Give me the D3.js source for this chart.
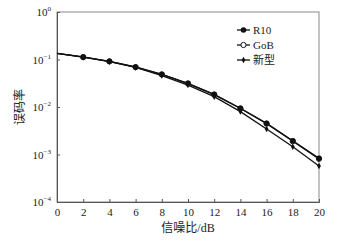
<!DOCTYPE html>
<html lang="zh">
<head>
<meta charset="UTF-8">
<title>误码率 vs 信噪比</title>
<script src="https://d3js.org/d3.v7.min.js"></script>
<style>
  body { margin: 0; background: #fff; }
  svg text { font-family: "Liberation Serif", "Noto Sans CJK SC", serif; fill: #222; }
  .axis path, .axis line { stroke: #555; }
</style>
</head>
<body>
<div id="chart"></div>
<script>
// data
const snr = [0, 2, 4, 6, 8, 10, 12, 14, 16, 18, 20];
const berR10 = [0.135, 0.113, 0.0916, 0.0695, 0.0488, 0.0315, 0.0185, 0.0094, 0.00454, 0.00195, 0.00083];
const berGoB = [0.134, 0.112, 0.0912, 0.0690, 0.0484, 0.0312, 0.0182, 0.0093, 0.00446, 0.00190, 0.00081];
const berNew = [0.134, 0.112, 0.0900, 0.0680, 0.0460, 0.0290, 0.0165, 0.0080, 0.00344, 0.00146, 0.00057];
const xTicks = [0, 2, 4, 6, 8, 10, 12, 14, 16, 18, 20];
const yExps = [0, -1, -2, -3, -4];
const seriesNames = ["R10", "GoB", "新型"];

const W = 348, H = 242;
const margin = {top: 12, right: 29, bottom: 40, left: 57};
const width = W - margin.left - margin.right,
      height = H - margin.top - margin.bottom;

const svg = d3.select("#chart").append("svg")
  .attr("width", W).attr("height", H);
const g = svg.append("g").attr("transform", `translate(${margin.left},${margin.top})`);

const x = d3.scaleLinear().domain([0, 20]).range([0, width]);
const y = d3.scaleLog().domain([1e-4, 1]).range([height, 0]);

// frame
g.append("rect").attr("width", width).attr("height", height)
  .attr("fill", "none").attr("stroke", "#888").attr("stroke-width", 1);

// x axis, ticks pointing inward
const xAxis = g.append("g").attr("class", "axis")
  .attr("transform", `translate(0,${height})`)
  .call(d3.axisBottom(x).tickValues(xTicks).tickSize(-3).tickPadding(6));
xAxis.selectAll("text").style("font-size", "11px");

// y axis
g.append("g").attr("class", "axis")
  .call(d3.axisLeft(y).tickValues(yExps.map(e => Math.pow(10, e))).tickSize(-3).tickFormat(""));

const yLab = g.append("g");
yExps.forEach(e => {
  const t = yLab.append("text")
    .attr("x", -6).attr("y", y(Math.pow(10, e)) + 4)
    .attr("text-anchor", "end").style("font-size", "11px");
  t.append("tspan").text("10");
  t.append("tspan").attr("dy", -5).style("font-size", "7px").text(e === 0 ? "0" : "−" + Math.abs(e));
});

const line = d3.line().x(d => x(d[0])).y(d => y(d[1]));
const series = [
  {name: seriesNames[0], vals: berR10, kind: 0},
  {name: seriesNames[1], vals: berGoB, kind: 1},
  {name: seriesNames[2], vals: berNew, kind: 2}
];

series.forEach(s => {
  const pts = snr.map((v, i) => [v, s.vals[i]]);
  g.append("path").datum(pts).attr("d", line)
    .attr("fill", "none").attr("stroke", "#111").attr("stroke-width", 1.3);
});

// markers
function drawMarker(sel, kind, cx, cy) {
  if (kind === 0) {
    sel.append("circle").attr("cx", cx).attr("cy", cy).attr("r", 2.8).attr("fill", "#111");
  } else if (kind === 1) {
    sel.append("circle").attr("cx", cx).attr("cy", cy).attr("r", 2.6)
      .attr("fill", "#fff").attr("stroke", "#111").attr("stroke-width", 1);
  } else {
    sel.append("path").attr("transform", `translate(${cx},${cy})`)
      .attr("d", d3.symbol(d3.symbolDiamond, 12)()).attr("fill", "#111");
  }
}

// GoB first so the R10 dots sit on top, as in the picture
[series[1], series[0], series[2]].forEach(s => {
  snr.forEach((v, i) => {
    if (i === 0) return;
    drawMarker(g, s.kind, x(v), y(s.vals[i]));
  });
});

// legend
const legend = g.append("g").attr("transform", `translate(${237 - margin.left},0)`);
series.forEach((s, k) => {
  const ly = 18 + k * 15;
  legend.append("line").attr("x1", 0).attr("x2", 13).attr("y1", ly).attr("y2", ly)
    .attr("stroke", "#111").attr("stroke-width", 1.3);
  drawMarker(legend, s.kind, 6.5, ly);
  legend.append("text").attr("x", 16).attr("y", ly + 4)
    .style("font-size", "11px").text(s.name);
});

// axis titles
svg.append("text")
  .attr("x", margin.left + width / 2).attr("y", 232)
  .attr("text-anchor", "middle").style("font-size", "12px")
  .text("信噪比/dB");

svg.append("text")
  .attr("transform", `translate(24,${margin.top + height / 2}) rotate(-90)`)
  .attr("text-anchor", "middle").style("font-size", "12px")
  .text("误码率");
</script>
</body>
</html>
